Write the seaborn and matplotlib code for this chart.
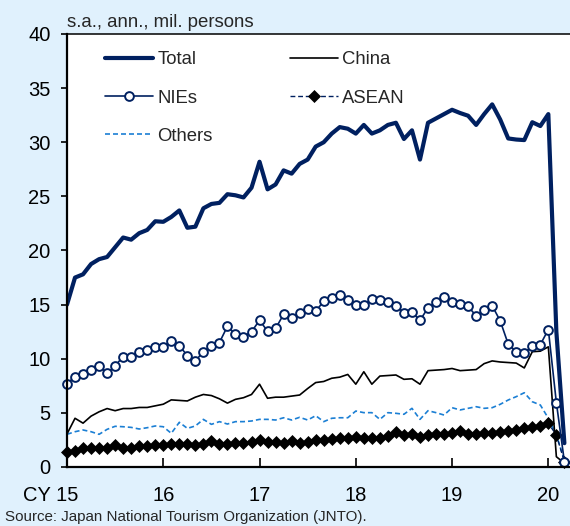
import numpy as np
import pandas as pd
import matplotlib
matplotlib.use("Agg")
import matplotlib.pyplot as plt
import seaborn as sns
from matplotlib.transforms import ScaledTranslation

# Visitor arrivals to Japan, seasonally adjusted annual rate (mil. persons), Jan 2015 - Mar 2020
months = pd.period_range("2015-01", "2020-03", freq="M")

total = [15.0, 17.5, 17.8, 18.75, 19.2, 19.4, 20.3, 21.2, 21.0, 21.6, 21.9, 22.7,
         22.65, 23.1, 23.7, 22.1, 22.2, 23.9, 24.3, 24.4, 25.2, 25.1, 24.9, 25.8,
         28.2, 25.65, 26.1, 27.4, 27.1, 28.0, 28.4, 29.6, 30.0, 30.8, 31.4, 31.25,
         30.8, 31.6, 30.8, 31.1, 31.6, 31.8, 30.3, 31.1, 28.4, 31.8, 32.2, 32.6,
         33.0, 32.7, 32.45, 31.6, 32.6, 33.5, 32.1, 30.35, 30.25, 30.2, 31.85, 31.5,
         32.6, 12.5, 2.2]

china = [3.05, 4.5, 4.05, 4.7, 5.1, 5.4, 5.2, 5.4, 5.4, 5.5, 5.5, 5.65,
         5.8, 6.2, 6.15, 6.1, 6.45, 6.7, 6.6, 6.3, 5.9, 6.25, 6.4, 6.7,
         7.65, 6.35, 6.45, 6.45, 6.55, 6.65, 7.25, 7.8, 7.9, 8.2, 8.3, 8.55,
         7.65, 8.8, 7.65, 8.4, 8.45, 8.5, 8.1, 8.15, 7.65, 8.9, 8.95, 9.0,
         9.1, 8.9, 8.95, 9.0, 9.55, 9.8, 9.7, 9.65, 9.6, 9.15, 10.65, 10.7,
         11.1, 0.95, 0.35]

nies = [7.7, 8.35, 8.55, 8.95, 9.35, 8.65, 9.35, 10.2, 10.2, 10.65, 10.8, 11.05,
        11.1, 11.65, 11.2, 10.3, 9.8, 10.65, 11.2, 11.5, 13.0, 12.25, 12.05, 12.5,
        13.55, 12.55, 12.8, 14.1, 13.8, 14.25, 14.55, 14.4, 15.3, 15.6, 15.85, 15.4,
        14.95, 14.95, 15.5, 15.45, 15.25, 14.9, 14.25, 14.3, 13.55, 14.7, 15.2, 15.7,
        15.2, 15.1, 14.85, 13.95, 14.5, 14.9, 13.5, 11.35, 10.65, 10.5, 11.2, 11.3,
        12.7, 5.95, 0.5]

asean = [1.42, 1.48, 1.73, 1.79, 1.79, 1.73, 2.03, 1.73, 1.79, 1.94, 1.94, 2.03,
         2.03, 2.09, 2.09, 2.09, 2.03, 2.09, 2.43, 2.09, 2.12, 2.25, 2.25, 2.28,
         2.49, 2.28, 2.34, 2.25, 2.4, 2.25, 2.34, 2.49, 2.49, 2.56, 2.65, 2.65,
         2.8, 2.71, 2.65, 2.65, 2.86, 3.26, 2.99, 3.05, 2.8, 2.96, 3.02, 3.05,
         3.17, 3.35, 3.05, 3.05, 3.17, 3.17, 3.26, 3.33, 3.42, 3.57, 3.72, 3.79,
         4.03, 2.96, 0.49]

others = [3.02, 3.26, 3.42, 3.26, 3.02, 3.48, 3.76, 3.72, 3.66, 3.51, 3.63, 3.79,
          3.72, 3.11, 4.13, 3.57, 3.79, 4.4, 3.94, 4.19, 3.97, 4.19, 4.19, 4.25,
          4.4, 4.4, 4.34, 4.55, 4.34, 4.59, 4.34, 4.74, 4.19, 4.5, 4.55, 4.55,
          5.17, 5.02, 5.02, 4.4, 5.02, 4.96, 4.87, 5.42, 4.4, 5.2, 5.02, 4.8,
          5.48, 5.27, 5.42, 5.57, 5.42, 5.48, 5.79, 6.19, 6.5, 6.86, 6.03, 5.73,
          4.5, 2.96, 0.65]

year_labels = ["CY 15", "16", "17", "18", "19", "20"]

df = pd.DataFrame({
    "pos": np.arange(len(months)),
    "Total": total, "China": china, "NIEs": nies,
    "ASEAN": asean, "Others": others,
})

BG = "#E0F1FD"
NAVY = "#002060"
BLUE = "#1B7FD4"

sns.set_theme(style="white")
plt.rcParams["font.family"] = ["Liberation Sans", "DejaVu Sans"]

fig = plt.figure(figsize=(5.7, 5.26), dpi=100, facecolor=BG)
ax = fig.add_axes([67 / 570, 1 - 467 / 526, (570 - 67) / 570, (467 - 34) / 526])
ax.set_facecolor("white")

sns.lineplot(data=df, x="pos", y="Others", ax=ax, color=BLUE, lw=1.2,
             dashes=(3, 1.8), label="Others", errorbar=None)
sns.lineplot(data=df, x="pos", y="ASEAN", ax=ax, color=NAVY, lw=1.0,
             dashes=(3.5, 2), marker="D", markersize=6.2,
             markerfacecolor="black", markeredgecolor="black",
             markeredgewidth=0.5, label="ASEAN", errorbar=None, clip_on=False)
sns.lineplot(data=df, x="pos", y="China", ax=ax, color="black", lw=1.2,
             label="China", errorbar=None)
sns.lineplot(data=df, x="pos", y="NIEs", ax=ax, color=NAVY, lw=1.2,
             marker="o", markersize=6.3, markerfacecolor="white",
             markeredgecolor=NAVY, markeredgewidth=1.4,
             label="NIEs", errorbar=None, clip_on=False)
sns.lineplot(data=df, x="pos", y="Total", ax=ax, color=NAVY, lw=3.0,
             label="Total", errorbar=None)

ax.set_xlim(0, 62.7)
ax.set_ylim(0, 40)
ax.set_yticks(np.arange(0, 41, 5))
ax.set_xticks(df["pos"].iloc[::12].to_numpy())
ax.set_xticklabels(year_labels)
ax.set_xlabel("")
ax.set_ylabel("")

ax.tick_params(axis="x", direction="in", length=6.5, width=1.2, pad=14,
               labelsize=14.5, colors="black", bottom=True)
ax.tick_params(axis="y", direction="out", length=4.3, width=1.2, pad=7.5,
               labelsize=14.5, colors="black", left=True)

first = ax.get_xticklabels()[0]
first.set_horizontalalignment("right")
first.set_transform(first.get_transform() + ScaledTranslation(0.11, 0, fig.dpi_scale_trans))

for side in ["left", "bottom"]:
    ax.spines[side].set_linewidth(1.6)
    ax.spines[side].set_color("black")
ax.spines["top"].set_linewidth(1.1)
ax.spines["top"].set_color("black")
ax.spines["right"].set_visible(False)

handles, labels = ax.get_legend_handles_labels()
lookup = dict(zip(labels, handles))
order = ["Total", "NIEs", "Others", "China", "ASEAN"]
ax.legend([lookup[k] for k in order], order, ncol=2, loc="upper left",
          bbox_to_anchor=(0.076, 0.96), frameon=False, fontsize=13.3,
          handlelength=2.6, handletextpad=0.22, columnspacing=4.2,
          labelspacing=1.15, borderpad=0, borderaxespad=0)

fig.text(67 / 570, 1 - 27 / 526, "s.a., ann., mil. persons", fontsize=13.4,
         ha="left", va="baseline")
fig.text(5 / 570, 1 - 521 / 526, "Source: Japan National Tourism Organization (JNTO).",
         fontsize=10.9, ha="left", va="baseline")

fig.savefig("out.png", dpi=100, facecolor=BG)
